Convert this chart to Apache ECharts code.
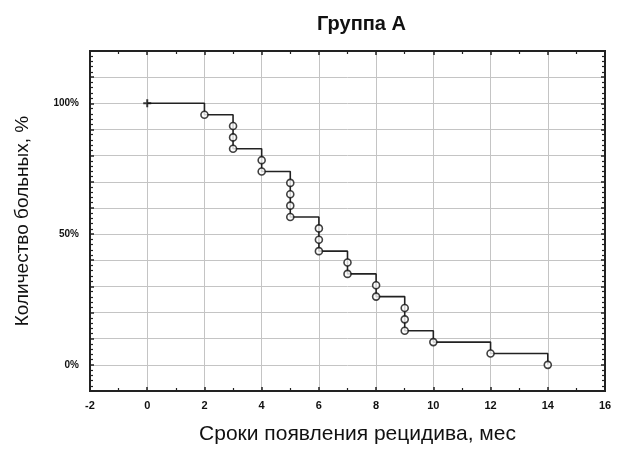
<!DOCTYPE html>
<html>
<head>
<meta charset="utf-8">
<script src="https://cdn.jsdelivr.net/npm/echarts@6/dist/echarts.min.js"></script>
<style>
html,body{margin:0;padding:0;background:#fff;}
#chart{width:621px;height:450px;}
</style>
</head>
<body>
<div id="chart"></div>
<script>
// Event times (months) and survival after each event (%)
const eventTimes = [2, 3, 3, 3, 4, 4, 5, 5, 5, 5, 6, 6, 6, 7, 7, 8, 8, 9, 9, 9, 10, 12, 14];
const survival   = [95.65, 91.30, 86.96, 82.61, 78.26, 73.91, 69.57, 65.22, 60.87, 56.52,
                    52.17, 47.83, 43.48, 39.13, 34.78, 30.43, 26.09, 21.74, 17.39, 13.04,
                    8.70, 4.35, 0];
const startPoint = [0, 100];
const yTickLabels = [0, 50, 100];
const xTickLabels = [-2, 0, 2, 4, 6, 8, 10, 12, 14, 16];

const stepData = [startPoint].concat(eventTimes.map((t, i) => [t, survival[i]]));
const eventData = eventTimes.map((t, i) => [t, survival[i]]);

const chart = echarts.init(document.getElementById('chart'), null, {renderer: 'canvas'});
const FONT = 'Liberation Sans, Arial, sans-serif';
const tickStyle = {show: true, inside: true, length: 4, lineStyle: {color: '#222', width: 1.5}};
const minorStyle = {show: true, length: 3, lineStyle: {color: '#222', width: 1.2}};

chart.setOption({
  animation: false,
  backgroundColor: '#fff',
  title: {
    text: 'Группа А',
    left: 312, top: 9,
    textStyle: {fontFamily: FONT, fontSize: 20, fontWeight: 'bold', color: '#111'}
  },
  grid: {
    left: 90, right: 16, top: 51, bottom: 58,
    show: true, borderColor: '#222', borderWidth: 2, backgroundColor: '#fff'
  },
  xAxis: [{
    type: 'value', min: -2, max: 16, interval: 2, position: 'bottom',
    axisLine: {show: true, onZero: false, lineStyle: {color: '#222', width: 2}},
    axisTick: tickStyle,
    minorTick: Object.assign({splitNumber: 2}, minorStyle),
    splitLine: {show: true, lineStyle: {color: '#c4c4c4', width: 1}},
    axisLabel: {
      fontFamily: FONT, fontSize: 11, fontWeight: 'bold', color: '#111', margin: 9,
      formatter: v => xTickLabels.indexOf(v) >= 0 ? String(v) : ''
    },
    name: 'Сроки появления рецидива, мес',
    nameLocation: 'middle', nameGap: 33,
    nameTextStyle: {fontFamily: FONT, fontSize: 21, color: '#111', padding: [0, 0, 0, 20]}
  }, {
    type: 'value', min: -2, max: 16, interval: 2, position: 'top',
    axisLine: {show: true, onZero: false, lineStyle: {color: '#222', width: 2}},
    axisTick: tickStyle,
    minorTick: Object.assign({splitNumber: 2}, minorStyle),
    splitLine: {show: false},
    axisLabel: {show: false}
  }],
  yAxis: [{
    type: 'value', min: -10, max: 120, interval: 10, position: 'left',
    axisLine: {show: true, onZero: false, lineStyle: {color: '#222', width: 2}},
    axisTick: tickStyle,
    minorTick: Object.assign({splitNumber: 5}, minorStyle),
    splitLine: {show: true, lineStyle: {color: '#c4c4c4', width: 1}},
    axisLabel: {
      fontFamily: FONT, fontSize: 10, fontWeight: 'bold', color: '#111', margin: 11,
      formatter: v => yTickLabels.indexOf(v) >= 0 ? v + '%' : ''
    },
    name: 'Количество больных, %',
    nameLocation: 'middle', nameGap: 58, nameRotate: 90,
    nameTextStyle: {fontFamily: FONT, fontSize: 19, color: '#111'}
  }, {
    type: 'value', min: -10, max: 120, interval: 10, position: 'right',
    axisLine: {show: true, onZero: false, lineStyle: {color: '#222', width: 2}},
    axisTick: tickStyle,
    minorTick: Object.assign({splitNumber: 5}, minorStyle),
    splitLine: {show: false},
    axisLabel: {show: false}
  }],
  series: [{
    type: 'line', step: 'end', data: stepData,
    xAxisIndex: 0, yAxisIndex: 0,
    showSymbol: false, symbol: 'none',
    lineStyle: {color: '#222', width: 1.6},
    z: 2
  }, {
    type: 'scatter', data: eventData,
    xAxisIndex: 0, yAxisIndex: 0,
    symbol: 'circle', symbolSize: 7,
    itemStyle: {color: '#fff', borderColor: '#111', borderWidth: 1.6},
    z: 3
  }, {
    type: 'scatter', data: [startPoint],
    xAxisIndex: 0, yAxisIndex: 0,
    symbol: 'path://M3,0h2v3h3v2h-3v3h-2v-3h-3v-2h3z', symbolSize: 8,
    itemStyle: {color: '#111'},
    z: 3
  }]
});
</script>
</body>
</html>
